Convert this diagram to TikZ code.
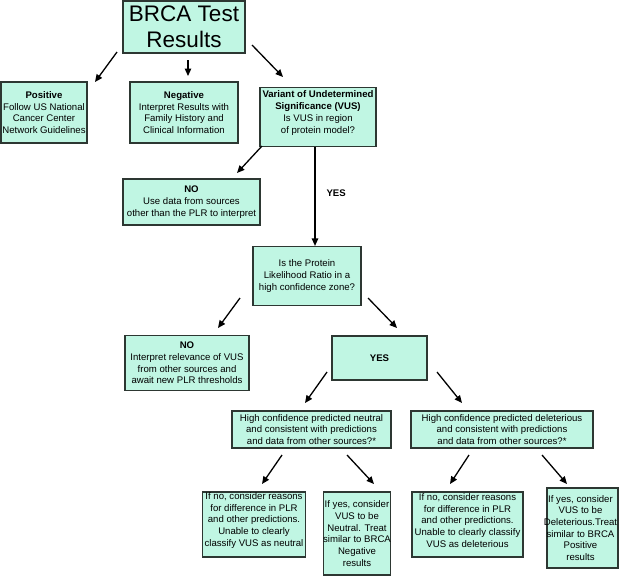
\documentclass[tikz,border=0pt]{standalone}
\usepackage{fontspec}
\setmainfont{Liberation Sans}
\usetikzlibrary{arrows.meta}
\definecolor{boxfill}{RGB}{192,246,227}
\definecolor{boxline}{RGB}{45,55,50}
\tikzset{
  box/.style={draw=boxline, line width=1.2pt, fill=boxfill, inner sep=0pt, align=center,
    font=\fontsize{9.6}{11.7}\selectfont},
  txt/.style={inner sep=0pt, align=center, font=\fontsize{9.6}{11.7}\selectfont},
  arr/.style={line width=1.3pt, -{Triangle[length=7.5pt,width=6.5pt]}},
}
\begin{document}
\begin{tikzpicture}[x=1pt,y=-1pt]
\useasboundingbox (0,0) rectangle (636,576);
% boxes
\node[box, minimum width=122, minimum height=52, font=\fontsize{22.5}{25.5}\selectfont] (brca) at (184,27) {BRCA Test\\Results};
\node[box, minimum width=86, minimum height=61] (pos) at (44,112.5) {\textbf{Positive}\\Follow US National\\Cancer Center\\Network Guidelines};
\node[box, minimum width=108, minimum height=61] (neg) at (184,112.5) {\textbf{Negative}\\Interpret Results with\\Family History and\\Clinical Information};
\node[box, minimum width=116, minimum height=59] (vus) at (318,117) {};
\node[txt, yshift=4pt] (vust) at (vus.center) {\textbf{Variant of Undetermined}\\\textbf{Significance (VUS)}\\Is VUS in region\\of protein model?};
\node[box, minimum width=137, minimum height=46] (no1) at (191.5,202) {\textbf{NO}\\Use data from sources\\other than the PLR to interpret};
\node[box, minimum width=108, minimum height=59] (plr) at (307,276) {Is the Protein\\Likelihood Ratio in a\\high confidence zone?};
\node[box, minimum width=124, minimum height=55] (no2) at (187,363) {\textbf{NO}\\Interpret relevance of VUS\\from other sources and\\await new PLR thresholds};
\node[box, minimum width=95, minimum height=44] (yes) at (379.5,358) {\textbf{YES}};
\node[box, minimum width=159, minimum height=37] (neu) at (311.5,429.5) {High confidence predicted neutral\\and consistent with predictions\\and data from other sources?*};
\node[box, minimum width=182, minimum height=37] (del) at (502,429.5) {High confidence predicted deleterious\\and consistent with predictions\\and data from other sources?*};
\node[box, minimum width=103, minimum height=65] (l1) at (254,524.5) {};
\node[txt, yshift=4pt] (l1t) at (l1.center) {If no, consider reasons\\for difference in PLR\\and other predictions.\\Unable to clearly\\classify VUS as neutral};
\node[box, minimum width=64, minimum height=83] (l2) at (357,533.5) {If yes, consider\\VUS to be\\Neutral. Treat\\similar to BRCA\\Negative\\results};
\node[box, minimum width=111, minimum height=65] (l3) at (467.5,524.5) {};
\node[txt, yshift=4pt] (l3t) at (l3.center) {If no, consider reasons\\for difference in PLR\\and other predictions.\\Unable to clearly classify\\VUS as deleterious};
\node[box, minimum width=71, minimum height=80] (l4) at (582.5,528) {};
\node[txt, xshift=-2pt] (l4t) at (l4.center) {If yes, consider\\VUS to be\\Deleterious.Treat\\similar to BRCA\\Positive\\results};
\node[font=\fontsize{9.6}{11}\selectfont\bfseries, anchor=west] (yeslbl) at (323,193) {YES};
% arrow end points
\coordinate (a1s) at (117,52);  \coordinate (a1e) at (95,82);
\coordinate (a2s) at (188,60);  \coordinate (a2e) at (188,76);
\coordinate (a3s) at (252,45);  \coordinate (a3e) at (283,77);
\coordinate (a4s) at (262,146); \coordinate (a4e) at (237,173);
\coordinate (a6s) at (240,298); \coordinate (a6e) at (218,328);
\coordinate (a7s) at (368,298); \coordinate (a7e) at (397,328);
\coordinate (a8s) at (327,372); \coordinate (a8e) at (305,403);
\coordinate (a9s) at (437,372); \coordinate (a9e) at (462,403);
\coordinate (b1s) at (282,455); \coordinate (b1e) at (262,484);
\coordinate (b2s) at (347,455); \coordinate (b2e) at (374,484);
\coordinate (b3s) at (469,455); \coordinate (b3e) at (450,484);
\coordinate (b4s) at (542,455); \coordinate (b4e) at (567,484);
% arrows
\draw[arr] (a1s) -- (a1e);
\draw[arr] (a2s) -- (a2e);
\draw[arr] (a3s) -- (a3e);
\draw[arr] (a4s) -- (a4e);
\draw[arr] (vus.south -| 315,0) -- (plr.north -| 315,0);
\draw[arr] (a6s) -- (a6e);
\draw[arr] (a7s) -- (a7e);
\draw[arr] (a8s) -- (a8e);
\draw[arr] (a9s) -- (a9e);
\draw[arr] (b1s) -- (b1e);
\draw[arr] (b2s) -- (b2e);
\draw[arr] (b3s) -- (b3e);
\draw[arr] (b4s) -- (b4e);
\end{tikzpicture}
\end{document}
